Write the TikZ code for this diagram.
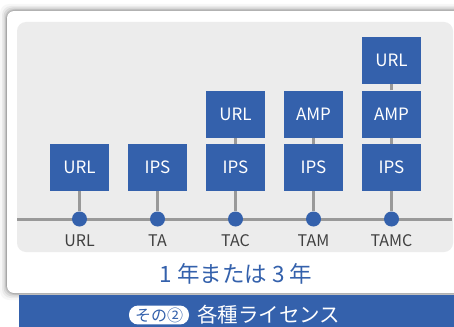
\documentclass[tikz,border=0pt]{standalone}
\usepackage{fontspec}
\setmainfont{Noto Sans CJK JP}
\usetikzlibrary{positioning}
\usepackage{xcolor}
\definecolor{licblue}{RGB}{52,97,172}
\definecolor{panelgray}{RGB}{236,236,236}
\definecolor{linegray}{RGB}{153,153,153}
\definecolor{labelgray}{RGB}{64,64,64}

\begin{document}
\begin{tikzpicture}[x=1pt,y=-1pt,
    lic/.style={fill=licblue,text=white,minimum width=59pt,minimum height=47pt,inner sep=0pt,font=\fontsize{17}{17}\selectfont},
    dot/.style={circle,fill=licblue,minimum size=15pt,inner sep=0pt},
    tier/.style={text=labelgray,font=\fontsize{16}{16}\selectfont},
    wire/.style={draw=linegray,line width=3pt}]

    \useasboundingbox (0,0) rectangle (454,326);

    % card with soft shadow
    \foreach \s/\o in {7/0.03,5/0.05,3.5/0.07,2/0.1,1/0.14}
        \fill[black,opacity=\o,rounded corners=9pt] (7-\s,11-\s) rectangle (480,293+\s);
    \fill[white,rounded corners=7pt] (7,11) rectangle (480,293);
    \fill[panelgray,rounded corners=9pt] (17,22) rectangle (453,252);

    % time line
    \coordinate (LnL) at (17,219);
    \coordinate (LnR) at (452,219);
    \draw[wire] (LnL) -- (LnR);

    \node[dot] (DoUr) at (79.5,219) {};
    \node[dot] (DoTa) at (157.5,219) {};
    \node[dot] (DoTac) at (235.5,219) {};
    \node[dot] (DoTam) at (313.5,219) {};
    \node[dot] (DoTamc) at (391.5,219) {};

    \node[tier] (LaUr) at (79.5,240.5) {URL};
    \node[tier] (LaTa) at (157.5,240.5) {TA};
    \node[tier] (LaTac) at (235.5,240.5) {TAC};
    \node[tier] (LaTam) at (313.5,240.5) {TAM};
    \node[tier] (LaTamc) at (391.5,240.5) {TAMC};

    % license stacks
    \node[lic] (UrUr) at (79.5,167.5) {URL};
    \node[lic] (IpTa) at (157.5,167.5) {IPS};
    \node[lic] (IpTac) at (235.5,167.5) {IPS};
    \node[lic, above=6pt of IpTac] (UrTac) {URL};
    \node[lic] (IpTam) at (313.5,167.5) {IPS};
    \node[lic, above=6pt of IpTam] (AmTam) {AMP};
    \node[lic] (IpTamc) at (391.5,167.5) {IPS};
    \node[lic, above=6pt of IpTamc] (AmTamc) {AMP};
    \node[lic, above=6pt of AmTamc] (UrTamc) {URL};

    \draw[wire] (DoUr) -- (UrUr);
    \draw[wire] (DoTa) -- (IpTa);
    \draw[wire] (DoTac) -- (IpTac);
    \draw[wire] (DoTam) -- (IpTam);
    \draw[wire] (DoTamc) -- (IpTamc);
    \draw[wire] (IpTac) -- (UrTac);
    \draw[wire] (IpTam) -- (AmTam);
    \draw[wire] (IpTamc) -- (AmTamc);
    \draw[wire] (AmTamc) -- (UrTamc);

    \node[text=licblue,font=\fontsize{22.5}{22.5}\selectfont] (Term) at (236,274)
        {1\hspace{5pt}年または\hspace{5pt}3\hspace{5pt}年};

    % title bar
    \fill[licblue] (19,295) rectangle (480,340);
    \node[fill=white,text=licblue,rounded corners=9pt,inner xsep=6pt,inner ysep=2pt,
        font=\fontsize{16}{16}\selectfont] (Sono) at (159,315) {その②};
    \node[text=white,inner sep=2pt,font=\fontsize{20.5}{20.5}\selectfont,right=6pt of Sono] (Kind) {各種ライセンス};

\end{tikzpicture}
\end{document}
